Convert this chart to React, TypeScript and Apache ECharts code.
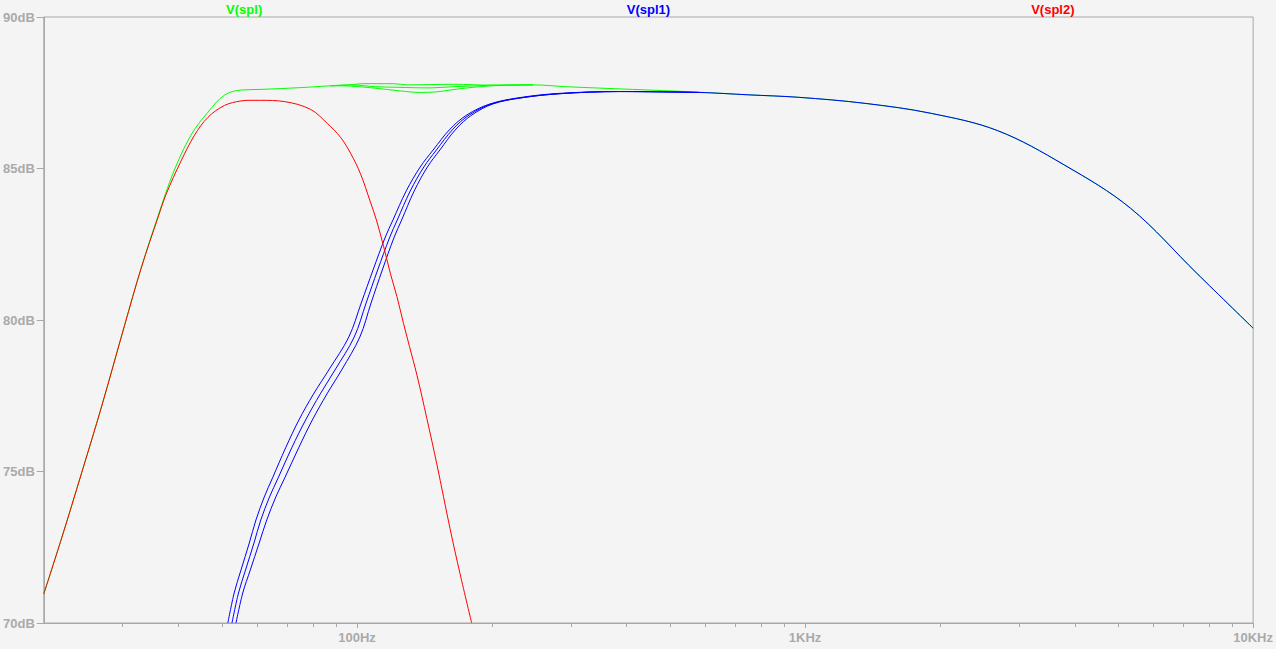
import React, { useEffect, useRef } from "react";
import * as echarts from "echarts";

// ---- axis ticks / labels ----
const xMajorTicks = [100, 1000, 10000];
const xTickLabels = ["100Hz", "1KHz", "10KHz"];
const xMinorTicks = [30, 40, 50, 60, 70, 80, 90, 200, 300, 400, 500, 600, 700, 800, 900, 2000, 3000, 4000, 5000, 6000, 7000, 8000, 9000];
const xMin = 20;
const xMax = 10000;
const yMin = 70;
const yMax = 90;
const yStep = 5;

const traceNames = ["V(spl)", "V(spl1)", "V(spl2)"];
const traceColors = ["#00ff00", "#0000ff", "#ff0000"];

// ---- V(spl) (green), three stepped runs ----
const splFreq1 = [20, 21.93, 24.3, 26.9, 30.3, 33.0, 36.0, 39.0, 42.6, 46.5, 50.6, 55.1, 61.0, 74.9, 87.3, 96.7, 102.7, 120.7, 129.3, 164.1, 201.3, 247.1, 293.1, 412.2, 560.4, 750, 967, 1361, 1912, 2690, 3786, 5324, 7489, 10000];
const splDb1 = [70.96, 72.81, 74.96, 77.13, 79.83, 81.72, 83.45, 84.9, 86.1, 86.86, 87.42, 87.59, 87.61, 87.67, 87.73, 87.76, 87.8, 87.8, 87.76, 87.78, 87.75, 87.76, 87.7, 87.61, 87.53, 87.43, 87.35, 87.15, 86.82, 86.25, 85.12, 83.69, 81.54, 79.73];
const splFreq2 = [87.3, 96.7, 109.9, 122.8, 145.6, 164.1, 178.7, 201.3, 247.1];
const splDb2 = [87.73, 87.76, 87.7, 87.68, 87.66, 87.7, 87.72, 87.75, 87.76];
const splFreq3 = [87.3, 96.7, 109.9, 124.9, 138.4, 150.7, 161.3, 178.7, 201.3, 247.1];
const splDb3 = [87.73, 87.72, 87.65, 87.56, 87.51, 87.53, 87.59, 87.67, 87.73, 87.76];

// ---- V(spl1) (blue), three stepped runs ----
const spl1Freq1 = [51.5, 53.2, 55.1, 57.5, 59.5, 62.1, 64.8, 69.3, 74.2, 80.0, 86.5, 95.9, 102.2, 108.6, 115.7, 120.3, 128.8, 138.4, 147.9, 161.3, 176.0, 198.0, 230.8, 283.2, 385, 580, 750, 967, 1361, 1912, 2690, 3786, 5324, 7489, 10000];
const spl1Db1 = [70.0, 70.99, 71.75, 72.64, 73.4, 74.16, 74.79, 75.78, 76.7, 77.56, 78.35, 79.44, 80.56, 81.65, 82.74, 83.3, 84.26, 85.05, 85.61, 86.3, 86.77, 87.13, 87.34, 87.48, 87.54, 87.51, 87.43, 87.35, 87.15, 86.82, 86.25, 85.12, 83.69, 81.54, 79.73];
const spl1Freq2 = [52.6, 54.4, 56.4, 58.9, 61.0, 63.8, 66.7, 71.5, 76.8, 82.8, 89.3, 98.6, 104.8, 111.2, 118.4, 123.0, 131.5, 141.0, 150.4, 163.8, 178.2, 199.5, 232, 284, 385, 580];
const spl1Db2 = [70.0, 70.99, 71.75, 72.64, 73.4, 74.16, 74.79, 75.78, 76.7, 77.56, 78.35, 79.44, 80.56, 81.65, 82.74, 83.3, 84.26, 85.05, 85.61, 86.3, 86.77, 87.13, 87.33, 87.47, 87.54, 87.51];
const spl1Freq3 = [53.7, 55.6, 57.8, 60.5, 62.9, 65.9, 69.0, 74.1, 79.5, 85.7, 92.4, 101.5, 107.5, 113.9, 121.1, 125.8, 134.2, 143.6, 153.1, 166.3, 180.6, 201.1, 232, 285, 385, 580];
const spl1Db3 = [70.0, 70.99, 71.75, 72.64, 73.4, 74.16, 74.79, 75.78, 76.7, 77.56, 78.35, 79.44, 80.56, 81.65, 82.74, 83.3, 84.26, 85.05, 85.61, 86.3, 86.77, 87.13, 87.33, 87.47, 87.54, 87.51];

// ---- V(spl2) (red) ----
const spl2Freq = [20, 21.93, 24.3, 26.9, 30.3, 33.0, 36.0, 37.5, 40.5, 43.4, 46.5, 50.6, 55.1, 58.0, 61.0, 68.8, 78.8, 85.8, 91.9, 96.7, 101.8, 107.1, 110.5, 114.7, 118.7, 122.8, 127.0, 131.0, 136.1, 143.2, 150.7, 161.3, 169.8, 180.3];
const spl2Db = [70.96, 72.81, 74.96, 77.13, 79.83, 81.72, 83.4, 84.15, 85.25, 86.1, 86.69, 87.08, 87.23, 87.25, 87.25, 87.21, 86.95, 86.49, 86.03, 85.51, 84.83, 83.9, 83.3, 82.42, 81.54, 80.77, 79.89, 79.12, 78.18, 76.75, 75.25, 73.12, 71.63, 70.0];

const GRID = { left: 42, right: 21, top: 17, bottom: 26 };
const W = 1276;
const H = 649;
const FRAME = "#a8a8a8";
const LABEL = "#aaaaaa";
const FONT = "Liberation Sans, Arial, sans-serif";

const lg = (v: number) => Math.log10(v);
const pairs = (f: number[], d: number[]) => f.map((v, i) => [lg(v), d[i]]);

export default function App() {
  const ref = useRef<HTMLDivElement>(null);
  useEffect(() => {
    if (!ref.current) return;
    const chart = echarts.init(ref.current, undefined, { renderer: "svg" });
    const majorLog = xMajorTicks.map(lg);
    const minorLog = xMinorTicks.map(lg);
    const mk = (name: string, color: string, f: number[], d: number[]) => ({
      type: "line",
      name,
      data: pairs(f, d),
      showSymbol: false,
      symbol: "none",
      smooth: 0.35,
      silent: true,
      lineStyle: { width: 1, color },
      itemStyle: { color },
      xAxisIndex: 0,
      yAxisIndex: 0,
    });
    const plotW = W - GRID.left - GRID.right;
    chart.setOption({
      animation: false,
      backgroundColor: "#f4f4f4",
      textStyle: { fontFamily: FONT },
      grid: {
        left: GRID.left,
        right: GRID.right,
        top: GRID.top,
        bottom: GRID.bottom,
        show: true,
        borderColor: FRAME,
        borderWidth: 1,
        backgroundColor: "transparent",
      },
      xAxis: [
        {
          type: "value",
          min: lg(xMin),
          max: lg(xMax),
          position: "bottom",
          axisLine: { show: true, lineStyle: { color: FRAME, width: 1 } },
          axisTick: { show: true, customValues: majorLog, length: 5, lineStyle: { color: FRAME } },
          axisLabel: {
            show: true,
            customValues: majorLog,
            formatter: (v: number) => {
              const i = majorLog.findIndex((m) => Math.abs(m - v) < 1e-6);
              return i >= 0 ? xTickLabels[i] : "";
            },
            color: LABEL,
            fontWeight: "bold",
            fontSize: 13,
            fontFamily: FONT,
            margin: 8,
          },
          splitLine: { show: false },
        },
        {
          type: "value",
          min: lg(xMin),
          max: lg(xMax),
          position: "bottom",
          offset: 0,
          axisLine: { show: false },
          axisTick: { show: true, customValues: minorLog, length: 4, lineStyle: { color: FRAME } },
          axisLabel: { show: false },
          splitLine: { show: false },
        },
      ],
      yAxis: {
        type: "value",
        min: yMin,
        max: yMax,
        interval: yStep,
        axisLine: { show: true, lineStyle: { color: FRAME, width: 1 } },
        axisTick: { show: true, length: 7, lineStyle: { color: FRAME } },
        axisLabel: {
          formatter: (v: number) => `${v}dB`,
          color: LABEL,
          fontWeight: "bold",
          fontSize: 13,
          fontFamily: FONT,
          margin: 9,
        },
        splitLine: { show: false },
      },
      graphic: traceNames.map((n, i) => ({
        type: "text",
        x: GRID.left + (plotW * (2 * i + 1)) / 6,
        y: 9,
        silent: true,
        style: {
          text: n,
          fill: traceColors[i],
          fontSize: 13,
          fontWeight: "bold",
          fontFamily: FONT,
          align: "center",
          verticalAlign: "middle",
        },
      })),
      series: [
        mk(traceNames[0], traceColors[0], splFreq1, splDb1),
        mk(traceNames[0], traceColors[0], splFreq2, splDb2),
        mk(traceNames[0], traceColors[0], splFreq3, splDb3),
        mk(traceNames[1], traceColors[1], spl1Freq1, spl1Db1),
        mk(traceNames[1], traceColors[1], spl1Freq2, spl1Db2),
        mk(traceNames[1], traceColors[1], spl1Freq3, spl1Db3),
        mk(traceNames[2], traceColors[2], spl2Freq, spl2Db),
      ],
    });
    return () => chart.dispose();
  }, []);
  return (
    <div
      ref={ref}
      style={{ position: "absolute", left: 0, top: 0, width: W, height: H, background: "#f4f4f4" }}
    />
  );
}
